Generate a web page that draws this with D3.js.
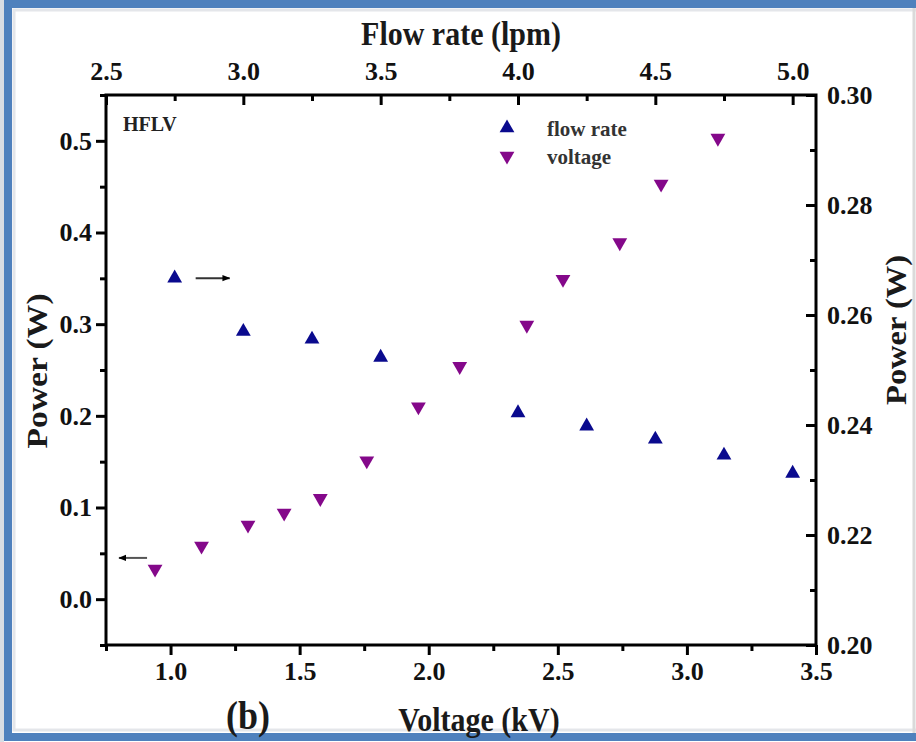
<!DOCTYPE html>
<html>
<head>
<meta charset="utf-8">
<script src="https://cdn.jsdelivr.net/npm/d3@7"></script>
<style>
  html, body { margin: 0; padding: 0; background: #fff; }
  svg { display: block; }
  text { font-family: "Liberation Serif", "Times New Roman", serif; font-weight: bold; }
</style>
</head>
<body>
<svg id="chart" width="916" height="742"></svg>
<script>
// voltage series (left / bottom axes)
const voltage = [0.94, 1.12, 1.30, 1.44, 1.58, 1.76, 1.96, 2.12, 2.38, 2.52, 2.74, 2.90, 3.12];
const voltagePower = [0.033, 0.058, 0.081, 0.094, 0.110, 0.151, 0.210, 0.254, 0.299, 0.349, 0.389, 0.453, 0.503];

// flow rate series (right / top axes)
const flowRate = [2.75, 3.0, 3.25, 3.5, 4.0, 4.25, 4.5, 4.75, 5.0];
const flowPower = [0.2667, 0.2570, 0.2556, 0.2523, 0.2422, 0.2398, 0.2374, 0.2345, 0.2312];

// ticks
const bottomMajor = [1.0, 1.5, 2.0, 2.5, 3.0, 3.5];
const bottomMinor = [0.75, 1.25, 1.75, 2.25, 2.75, 3.25];
const topMajor = [2.5, 3.0, 3.5, 4.0, 4.5, 5.0];
const topMinor = [2.75, 3.25, 3.75, 4.25, 4.75];
const leftMajor = [0.0, 0.1, 0.2, 0.3, 0.4, 0.5];
const leftMinor = [-0.05, 0.05, 0.15, 0.25, 0.35, 0.45, 0.55];
const rightMajor = [0.20, 0.22, 0.24, 0.26, 0.28, 0.30];
const rightMinor = [0.21, 0.23, 0.25, 0.27, 0.29];

const legendItems = ["flow rate", "voltage"];

const svg = d3.select("#chart");
const margin = {left: 106, right: 816, top: 95, bottom: 645};

const x = d3.scaleLinear().domain([0.75, 3.5]).range([margin.left, margin.right]);
const xTop = d3.scaleLinear().domain([2.5, 5.085]).range([margin.left, margin.right]);
const y = d3.scaleLinear().domain([-0.05, 0.55]).range([margin.bottom, margin.top]);
const yRight = d3.scaleLinear().domain([0.20, 0.30]).range([margin.bottom, margin.top]);

const blue = "#0a0a8e";
const purple = "#84088a";

// frame border
svg.append("rect").attr("x", 0).attr("y", 0).attr("width", 916).attr("height", 742).attr("fill", "#fff");
svg.append("rect").attr("x", 0).attr("y", 0).attr("width", 4).attr("height", 742).attr("fill", "#d9dde3");
svg.append("rect")
    .attr("x", 14).attr("y", 10).attr("width", 1000).attr("height", 720)
    .attr("fill", "none").attr("stroke", "#e4e6ea").attr("stroke-width", 3);
svg.append("rect")
    .attr("x", 8).attr("y", 4).attr("width", 1000).attr("height", 733)
    .attr("fill", "none").attr("stroke", "#4f81bd").attr("stroke-width", 8);
svg.append("line").attr("x1", 914).attr("x2", 914).attr("y1", 8).attr("y2", 733)
    .attr("stroke", "#dadada").attr("stroke-width", 3);

function styleAxis(g, size) {
    g.select(".domain").remove();
    g.selectAll(".tick line").attr("stroke", "#000").attr("stroke-width", 3);
    g.selectAll(".tick text").attr("fill", "#111").style("font-size", size + "px");
}

// bottom axis
svg.append("g").attr("transform", `translate(0,${margin.bottom})`)
    .call(d3.axisBottom(x).tickValues(bottomMinor).tickSize(6).tickFormat(""))
    .call(g => styleAxis(g, 26));
svg.append("g").attr("transform", `translate(0,${margin.bottom})`)
    .call(d3.axisBottom(x).tickValues(bottomMajor).tickSize(10).tickPadding(7).tickFormat(d3.format(".1f")))
    .call(g => styleAxis(g, 26));

// top axis (ticks inward)
svg.append("g").attr("transform", `translate(0,${margin.top})`)
    .call(d3.axisTop(xTop).tickValues(topMinor).tickSize(-6).tickFormat(""))
    .call(g => styleAxis(g, 26));
svg.append("g").attr("transform", `translate(0,${margin.top})`)
    .call(d3.axisTop(xTop).tickValues(topMajor).tickSize(-10).tickPadding(15).tickFormat(d3.format(".1f")))
    .call(g => styleAxis(g, 26));

// left axis
svg.append("g").attr("transform", `translate(${margin.left},0)`)
    .call(d3.axisLeft(y).tickValues(leftMinor).tickSize(6).tickFormat(""))
    .call(g => styleAxis(g, 26));
svg.append("g").attr("transform", `translate(${margin.left},0)`)
    .call(d3.axisLeft(y).tickValues(leftMajor).tickSize(10).tickPadding(4).tickFormat(d3.format(".1f")))
    .call(g => styleAxis(g, 26));

// right axis (ticks inward)
svg.append("g").attr("transform", `translate(${margin.right},0)`)
    .call(d3.axisRight(yRight).tickValues(rightMinor).tickSize(-6).tickFormat(""))
    .call(g => styleAxis(g, 26));
svg.append("g").attr("transform", `translate(${margin.right},0)`)
    .call(d3.axisRight(yRight).tickValues(rightMajor).tickSize(-10).tickPadding(11).tickFormat(d3.format(".2f")))
    .call(g => styleAxis(g, 26));

// plot box
svg.append("rect")
    .attr("x", margin.left).attr("y", margin.top)
    .attr("width", margin.right - margin.left).attr("height", margin.bottom - margin.top)
    .attr("fill", "none").attr("stroke", "#000").attr("stroke-width", 3);

// axis titles (slightly tall, like the scanned figure)
function title(txt, tx, ty, rot, size) {
    svg.append("text")
        .attr("transform", `translate(${tx},${ty}) rotate(${rot}) scale(${rot ? 1.12 : 1},${rot ? 1 : 1.12})`)
        .attr("text-anchor", "middle")
        .attr("fill", "#1a1a1a")
        .style("font-size", size + "px")
        .text(txt);
}
title("Flow rate (lpm)", 461, 45, 0, 30);
title("Voltage (kV)", 479, 731, 0, 30);
title("Power (W)", 47, 371, -90, 30);
title("Power (W)", 906, 330, -90, 29);
title("(b)", 248, 729, 0, 36);

svg.append("text").attr("x", 123).attr("y", 131)
    .attr("fill", "#222").style("font-size", "20px").text("HFLV");

// markers
const up = d3.symbol().type(d3.symbolTriangle).size(95);

svg.append("g").selectAll("path")
    .data(flowRate.map((d, i) => [d, flowPower[i]]))
    .join("path")
    .attr("d", up)
    .attr("transform", d => `translate(${xTop(d[0])},${yRight(d[1])})`)
    .attr("fill", blue);

svg.append("g").selectAll("path")
    .data(voltage.map((d, i) => [d, voltagePower[i]]))
    .join("path")
    .attr("d", up)
    .attr("transform", d => `translate(${x(d[0])},${y(d[1])}) rotate(180)`)
    .attr("fill", purple);

// arrows pointing to each series' axis
svg.append("defs").append("marker")
    .attr("id", "head").attr("viewBox", "0 0 10 10")
    .attr("refX", 9).attr("refY", 5)
    .attr("markerWidth", 4).attr("markerHeight", 4)
    .attr("orient", "auto")
    .append("path").attr("d", "M0,1 L10,5 L0,9 Z").attr("fill", "#000");

const ay1 = yRight(flowPower[0]);
svg.append("line")
    .attr("x1", xTop(flowRate[0]) + 21).attr("x2", xTop(flowRate[0]) + 55)
    .attr("y1", ay1).attr("y2", ay1)
    .attr("stroke", "#333").attr("stroke-width", 2).attr("marker-end", "url(#head)");

const ay2 = y(voltagePower[0] + 0.012);
svg.append("line")
    .attr("x1", x(voltage[0]) - 8).attr("x2", x(voltage[0]) - 36)
    .attr("y1", ay2).attr("y2", ay2)
    .attr("stroke", "#555").attr("stroke-width", 2).attr("marker-end", "url(#head)");

// legend
const legend = svg.append("g").attr("transform", "translate(507,128)");
legendItems.forEach((name, i) => {
    const row = legend.append("g").attr("transform", `translate(0,${i * 28})`);
    row.append("path").attr("d", up)
        .attr("transform", i === 0 ? "" : "rotate(180)")
        .attr("fill", i === 0 ? blue : purple);
    row.append("text").attr("x", 40).attr("y", 8)
        .attr("fill", "#333").style("font-size", "21px").text(name);
});
</script>
</body>
</html>
